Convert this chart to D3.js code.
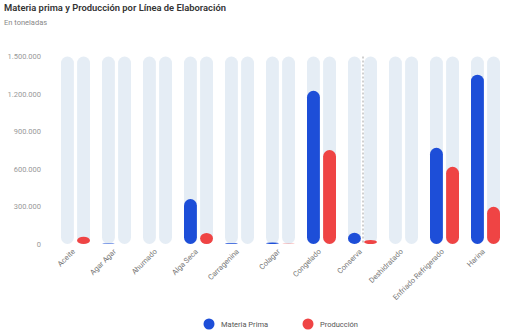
<!DOCTYPE html>
<html><head><meta charset="utf-8">
<script src="https://cdn.jsdelivr.net/npm/d3@7/dist/d3.min.js"></script>
<style>body{margin:0;background:#fff}svg{display:block;font-family:Roboto,"Noto Sans",sans-serif}</style>
</head><body><svg id="c" width="505" height="334"></svg>
<script>
const categories = ["Aceite","Agar Agar","Ahumado","Alga Seca","Carragenina","Colagar","Congelado","Conserva","Deshidratado","Enfriado Refrigerado","Harina"];
const materiaPrima = [0, 5000, 0, 360000, 6000, 12000, 1226000, 90000, 0, 770000, 1355000];
const produccion = [58000, 0, 0, 88000, 0, 2000, 752000, 32000, 0, 618000, 298000];
const yTicks = [0, 300000, 600000, 900000, 1200000, 1500000];
const seriesNames = ["Materia Prima", "Producción"];
const colors = ["#1d4ed8", "#ef4444"];

const svg = d3.select("#c");
const x0 = d3.scaleBand().domain(categories).range([55, 506]);
const x1 = d3.scaleBand().domain([0,1]).range([6, 35]).paddingInner(0.2);
const y = d3.scaleLinear().domain([0, 1500000]).range([244, 56.5]);
const fmt = v => d3.format(",")(v).replace(/,/g, ".");

svg.append("text").attr("x", 4).attr("y", 11).attr("font-size", 9.4).attr("font-weight", 600).attr("fill", "#333").text("Materia prima y Producción por Línea de Elaboración");
svg.append("text").attr("x", 4).attr("y", 25).attr("font-size", 7.5).attr("fill", "#888").text("En toneladas");

// y axis
const ya = svg.append("g").attr("transform", "translate(41,0)").call(d3.axisLeft(y).tickValues(yTicks).tickFormat(fmt).tickSize(0).tickPadding(0));
ya.select(".domain").remove();
ya.selectAll("text").attr("font-size", 7.5).attr("fill", "#999").attr("font-family", "Roboto,sans-serif");

const data = [materiaPrima, produccion];
const g = svg.append("g");
categories.forEach((c, i) => {
  [0,1].forEach(s => {
    const bx = x0(c) + x1(s), w = x1.bandwidth();
    g.append("rect").attr("x", bx).attr("y", y(1500000)).attr("width", w).attr("height", y(0) - y(1500000)).attr("rx", w/2).attr("fill", "#e5edf5");
    const v = data[s][i];
    if (v > 0) {
      const h = y(0) - y(v);
      g.append("rect").attr("x", bx).attr("y", y(v)).attr("width", w).attr("height", h).attr("rx", w/2).attr("ry", Math.min(w/2, h/2)).attr("fill", colors[s]);
    }
  });
});

// hover line
const hx = x0("Conserva") + x0.bandwidth()/2 + 0.5;
svg.append("line").attr("x1", hx).attr("x2", hx).attr("y1", y(1500000)).attr("y2", y(0)).attr("stroke", "#888").attr("stroke-width", 0.8).attr("stroke-dasharray", "2,2");

// x labels
const xa = svg.append("g").attr("transform", "translate(0,244)").call(d3.axisBottom(x0).tickSize(0).tickPadding(0));
xa.select(".domain").remove();
xa.selectAll("text").attr("font-size", 7.5).attr("fill", "#777").attr("font-family", "Roboto,sans-serif")
  .attr("text-anchor", "end").attr("dy", 0).attr("transform", "translate(0,8) rotate(-45)");

// legend
const lx = [209, 308];
seriesNames.forEach((n, s) => {
  svg.append("circle").attr("cx", lx[s]).attr("cy", 324).attr("r", 5.5).attr("fill", colors[s]);
  svg.append("text").attr("x", lx[s] + 12).attr("y", 327).attr("font-size", 7.5).attr("fill", "#555").text(n);
});
</script></body></html>
